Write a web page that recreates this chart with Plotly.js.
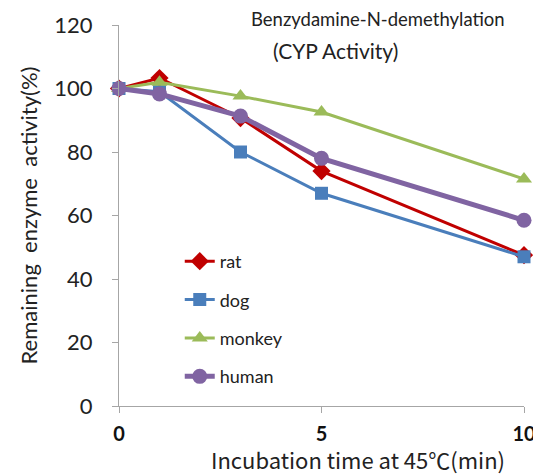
<!DOCTYPE html>
<html><head><meta charset="utf-8">
<script src="https://cdn.plot.ly/plotly-3.0.1.min.js"></script>
<style>html,body{margin:0;padding:0;background:#fff}</style>
</head><body>
<div id="chart" style="width:533px;height:475px"></div>
<script>
const times = [0, 1, 3, 5, 10];
const rat = [100, 103.3, 90.7, 74, 47.5];
const dog = [100, 99, 80, 67, 47];
const monkey = [100, 102, 97.6, 92.6, 71.5];
const human = [100, 98.3, 91.3, 78, 58.5];
const xTicks = [0, 5, 10];
const yTicks = [0, 20, 40, 60, 80, 100, 120];

const mk = (name, y, color, symbol, size, width, g) => ({
  x: times, y: y, name: name, type: 'scatter', mode: 'lines+markers',
  line: {color: color, width: width},
  marker: {color: color, symbol: symbol, size: size},
  cliponaxis: false, legendgroup: g
});
const data = [
  mk('rat', rat, '#c00000', 'diamond', 14, 3, 'a'),
  mk('dog', dog, '#4a7ebb', 'square', 13, 3, 'b'),
  mk('monkey', monkey, '#9bbb59', 'triangle-up', 14, 3, 'c'),
  mk('human', human, '#8064a2', 'circle', 15, 5, 'd')
];
const font = 'Lato, "Noto Sans", sans-serif';
const layout = {
  width: 533, height: 475,
  margin: {l: 119, r: 9, t: 25, b: 69},
  paper_bgcolor: '#fff', plot_bgcolor: '#fff',
  showlegend: true,
  legend: {x: 0.15, y: 0.428, xanchor: 'left', yanchor: 'top', traceorder: 'grouped',
    tracegroupgap: 12, font: {family: font, size: 18, color: '#222'}, bgcolor: 'rgba(0,0,0,0)'},
  xaxis: {range: [0, 10], tickvals: xTicks, ticktext: xTicks.map(String), showgrid: false, zeroline: false,
    showline: true, linecolor: '#a6a6a6', linewidth: 1, ticks: 'outside', ticklen: 6, tickcolor: '#a6a6a6',
    ticklabeloverflow: 'allow', ticklabelstandoff: 4,
    tickfont: {family: font, size: 20, color: '#111', weight: 'bold'}},
  yaxis: {range: [0, 120], tickvals: yTicks, showgrid: false, zeroline: false,
    showline: true, linecolor: '#a6a6a6', linewidth: 1, ticks: 'outside', ticklen: 6, tickcolor: '#a6a6a6',
    tickfont: {family: font, size: 22, color: '#222'}, ticklabelstandoff: 15,
    title: {text: 'Remaining  enzyme  activity(%)', font: {family: font, size: 22, color: '#222'}, standoff: 10}},
  annotations: [
    {xref: 'paper', yref: 'paper', x: 0.64, y: 1.016, xanchor: 'center', yanchor: 'middle', showarrow: false,
     text: 'Benzydamine-N-demethylation', font: {family: font, size: 18.5, color: '#222'}},
    {xref: 'paper', yref: 'paper', x: 0.535, y: 0.932, xanchor: 'center', yanchor: 'middle', showarrow: false,
     text: '(CYP Activity)', font: {family: font, size: 21, color: '#222'}},
    {xref: 'paper', yref: 'paper', x: 0.59, y: -0.14, xanchor: 'center', yanchor: 'middle', showarrow: false,
     text: 'Incubation time at 45℃(min)', font: {family: '"Noto Sans CJK JP", sans-serif', size: 22, color: '#222'}}
  ]
};
Plotly.newPlot('chart', data, layout, {displayModeBar: false, staticPlot: true});
</script>
</body></html>
